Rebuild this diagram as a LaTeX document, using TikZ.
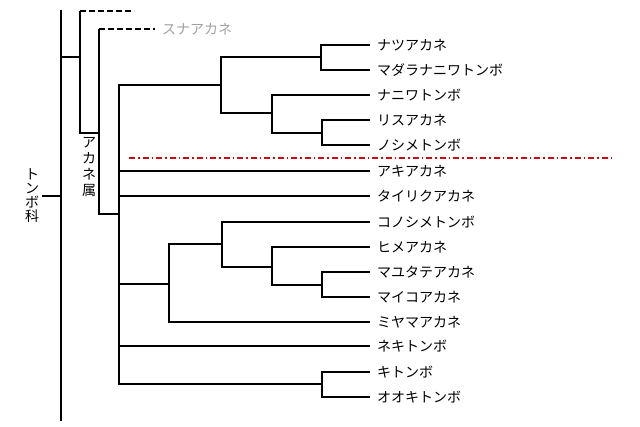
\documentclass[tikz,border=0pt]{standalone}
\usepackage{fontspec}
\newfontfamily\jpfont{Noto Sans CJK JP}
\definecolor{cutred}{RGB}{200,10,20}
\definecolor{extinct}{RGB}{160,160,160}

\begin{document}
\begin{tikzpicture}[
  x=1pt, y=-1pt,
  every node/.style={font=\jpfont\fontsize{14}{15}\selectfont},
  % Styles
  leaf/.style={anchor=west, inner xsep=7pt, inner ysep=0pt},
  grouplabel/.style={align=center, inner sep=3pt},
  branch/.style={line width=1.9pt},
  fossil/.style={line width=1.9pt, dash pattern=on 6pt off 3pt},
  cutline/.style={line width=1.1pt, color=cutred, dash pattern=on 6pt off 3pt on 1.5pt off 3pt},
]
  \useasboundingbox (0,0) rectangle (640,427);

  % ── FAMILY / GENUS ────────────────────────────────────────
  \coordinate (rtop) at (61,10);
  \coordinate (rbot) at (61,421);
  \node[grouplabel, font=\jpfont\fontsize{14}{14}\selectfont] (tonbo) at (32,196) {ト\\ン\\ボ\\科};
  \node[grouplabel, font=\jpfont\fontsize{14}{16}\selectfont] (akane) at (89,167) {ア\\カ\\ネ\\属};

  % Branch points
  \coordinate (g1) at (80,57);
  \coordinate (g2) at (99,133);
  \coordinate (g3) at (119,214);
  \coordinate (g4) at (221,85);
  \coordinate (g5) at (321,57);
  \coordinate (g6) at (272,113);
  \coordinate (g7) at (322,133);
  \coordinate (g8) at (169,284);
  \coordinate (g9) at (222,244);
  \coordinate (g10) at (272,267);
  \coordinate (g11) at (322,285);
  \coordinate (g12) at (322,384);

  % Fossil stubs
  \coordinate (x1) at (134,11);
  \node[leaf, text=extinct] (suna) at (155,29) {スナアカネ};

  % ── SPECIES ───────────────────────────────────────────────
  \node[leaf] (natsu) at (370,45) {ナツアカネ};
  \node[leaf] (madara) at (370,70) {マダラナニワトンボ};
  \node[leaf] (naniwa) at (370,95) {ナニワトンボ};
  \node[leaf] (risu) at (370,120) {リスアカネ};
  \node[leaf] (noshime) at (370,145) {ノシメトンボ};
  \node[leaf] (aki) at (370,171) {アキアカネ};
  \node[leaf] (tairiku) at (370,196) {タイリクアカネ};
  \node[leaf] (konoshime) at (370,222) {コノシメトンボ};
  \node[leaf] (hime) at (370,247) {ヒメアカネ};
  \node[leaf] (mayutate) at (370,272) {マユタテアカネ};
  \node[leaf] (maiko) at (370,297) {マイコアカネ};
  \node[leaf] (miyama) at (370,322) {ミヤマアカネ};
  \node[leaf] (neki) at (370,346) {ネキトンボ};
  \node[leaf] (ki) at (370,372) {キトンボ};
  \node[leaf] (ooki) at (370,397) {オオキトンボ};

  % ── BRANCHES ──────────────────────────────────────────────
  % Root
  \draw[branch] (rtop) -- (rbot);
  \draw[branch] (tonbo.east) -- (tonbo.east -| rtop);
  \draw[branch] (g1 -| rtop) -- (g1);

  % Fossil side branches
  \draw[branch] (g1) -- (g1 |- x1);
  \draw[fossil] (g1 |- x1) -- (x1);
  \draw[branch] (g1) |- (g2);
  \draw[branch] (g2) -- (g2 |- suna.west);
  \draw[fossil] (g2 |- suna.west) -- (suna.west);
  \draw[branch] (g2) |- (g3);

  % Upper clade
  \draw[branch] (g3) |- (g4);
  \draw[branch] (g4) |- (g5);
  \draw[branch] (g5) |- (natsu.west);
  \draw[branch] (g5) |- (madara.west);
  \draw[branch] (g4) |- (g6);
  \draw[branch] (g6) |- (naniwa.west);
  \draw[branch] (g6) |- (g7);
  \draw[branch] (g7) |- (risu.west);
  \draw[branch] (g7) |- (noshime.west);

  % Single lines
  \draw[branch] (g3) |- (aki.west);
  \draw[branch] (g3) |- (tairiku.west);

  % Lower clade
  \draw[branch] (g3) |- (g8);
  \draw[branch] (g8) |- (g9);
  \draw[branch] (g9) |- (konoshime.west);
  \draw[branch] (g9) |- (g10);
  \draw[branch] (g10) |- (hime.west);
  \draw[branch] (g10) |- (g11);
  \draw[branch] (g11) |- (mayutate.west);
  \draw[branch] (g11) |- (maiko.west);
  \draw[branch] (g8) |- (miyama.west);

  \draw[branch] (g3) |- (neki.west);
  \draw[branch] (g3) |- (g12);
  \draw[branch] (g12) |- (ki.west);
  \draw[branch] (g12) |- (ooki.west);

  % ── DIVIDER ───────────────────────────────────────────────
  \coordinate (cutL) at (129,158);
  \coordinate (cutR) at (615,158);
  \draw[cutline] (cutL) -- (cutR);

\end{tikzpicture}
\end{document}
